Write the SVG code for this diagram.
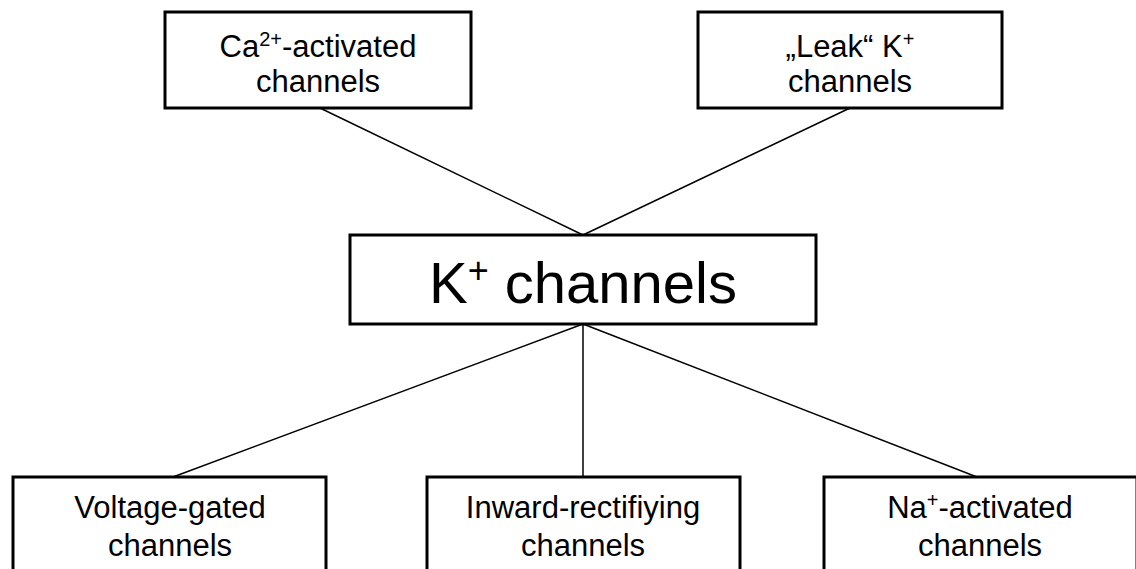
<svg xmlns="http://www.w3.org/2000/svg" width="1136" height="569" viewBox="0 0 1136 569">
<style>
.box{fill:#fff;stroke:#000;stroke-width:3}
.edge{stroke:#000;stroke-width:1.5;fill:none}
.t{font-family:"Liberation Sans",Arial,sans-serif;font-size:31px;fill:#000;text-anchor:middle}
.big{font-size:58px}
.sup{font-size:20px}
.supb{font-size:36px}
</style>
<rect width="1136" height="569" fill="#fff"/>
<g id="connectors">
<line class="edge" x1="320" y1="108" x2="583" y2="235"/>
<line class="edge" x1="850" y1="108" x2="583" y2="235"/>
<line class="edge" x1="583" y1="324" x2="173" y2="477"/>
<line class="edge" x1="583" y1="324" x2="583" y2="477"/>
<line class="edge" x1="583" y1="324" x2="977" y2="477"/>
</g>
<g id="ca">
<rect class="box" x="165" y="12" width="306" height="96"/>
<text class="t" x="318" y="57">Ca<tspan class="sup" dy="-11">2+</tspan><tspan dy="11">-activated</tspan></text>
<text class="t" x="318" y="92">channels</text>
</g>
<g id="leak">
<rect class="box" x="698" y="12" width="304" height="96"/>
<text class="t" x="850" y="57">„Leak“ K<tspan class="sup" dy="-11">+</tspan></text>
<text class="t" x="850" y="92">channels</text>
</g>
<g id="kchannels">
<rect class="box" x="350" y="235" width="466" height="89"/>
<text class="t big" x="583" y="303">K<tspan class="supb" dy="-20">+</tspan><tspan dy="20"> channels</tspan></text>
</g>
<g id="voltage">
<rect class="box" x="13" y="477" width="313" height="140"/>
<text class="t" x="170" y="518">Voltage-gated</text>
<text class="t" x="170" y="556">channels</text>
</g>
<g id="inward">
<rect class="box" x="427" y="477" width="313" height="140"/>
<text class="t" x="583" y="518">Inward-rectifiying</text>
<text class="t" x="583" y="556">channels</text>
</g>
<g id="na">
<rect class="box" x="824" y="477" width="313" height="140"/>
<text class="t" x="980" y="518">Na<tspan class="sup" dy="-11">+</tspan><tspan dy="11">-activated</tspan></text>
<text class="t" x="980" y="556">channels</text>
</g>
</svg>
